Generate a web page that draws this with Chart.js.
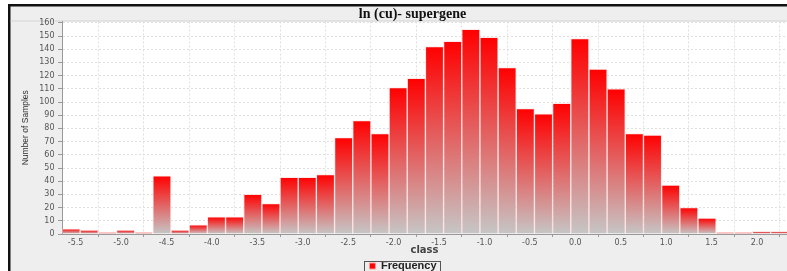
<!DOCTYPE html>
<html>
<head>
<meta charset="utf-8">
<script src="https://cdn.jsdelivr.net/npm/chart.js@4.4.1/dist/chart.umd.min.js"></script>
<style>
  html, body { margin: 0; padding: 0; background: #fff; overflow: hidden; }
  #wrap { position: relative; width: 787px; height: 271px; overflow: hidden; }
  #histChart { display: block; }
</style>
</head>
<body>
<div id="wrap"><canvas id="histChart" width="787" height="285"></canvas></div>
<script>
const chartTitle = 'ln (cu)- supergene';
const seriesName = 'Frequency';
const xTitle = 'class';
const yTitle = 'Number of Samples';

// class bins (centre of each 0.2 wide bin)
const binCenters = [
  -5.55, -5.35, -5.15, -4.95, -4.75, -4.55, -4.35, -4.15, -3.95, -3.75,
  -3.55, -3.35, -3.15, -2.95, -2.75, -2.55, -2.35, -2.15, -1.95, -1.75,
  -1.55, -1.35, -1.15, -0.95, -0.75, -0.55, -0.35, -0.15, 0.05, 0.25,
  0.45, 0.65, 0.85, 1.05, 1.25, 1.45, 1.65, 1.85, 2.05, 2.25
];
const counts = [
  4, 3, 1, 3, 1, 44, 3, 7, 13, 13,
  30, 23, 43, 43, 45, 73, 86, 76, 111, 118,
  142, 146, 155, 149, 126, 95, 91, 99, 148, 125,
  110, 76, 75, 37, 20, 12, 1, 1, 2, 2
];
const xTicks = [-5.5, -5.0, -4.5, -4.0, -3.5, -3.0, -2.5, -2.0, -1.5, -1.0, -0.5, 0.0, 0.5, 1.0, 1.5, 2.0];
const yTicks = [0, 10, 20, 30, 40, 50, 60, 70, 80, 90, 100, 110, 120, 130, 140, 150, 160];

const points = binCenters.map((c, i) => ({ x: c, y: counts[i] }));

// red at the top of each bar fading to grey at its base
function barFill(ctx) {
  if (ctx.type !== 'data') return '#ff0000';
  const chart = ctx.chart;
  const y = chart.scales.y;
  if (!y || !chart.chartArea) return '#ff0000';
  const top = y.getPixelForValue(ctx.parsed.y);
  const base = y.getPixelForValue(0);
  if (!isFinite(top) || base - top < 1) return '#ff0000';
  const g = chart.ctx.createLinearGradient(0, top, 0, base);
  g.addColorStop(0, '#ff0000');
  g.addColorStop(1, '#c6c6c6');
  return g;
}

const panelPlugin = {
  id: 'panel',
  beforeDraw(chart) {
    const c = chart.ctx;
    const a = chart.chartArea;
    c.save();
    c.fillStyle = '#ffffff';
    c.fillRect(0, 0, chart.width, chart.height);
    c.fillStyle = '#eeeeee';
    c.fillRect(10, 6, chart.width - 10, chart.height - 6);
    c.fillStyle = '#111111';
    c.fillRect(8, 4, chart.width - 8, 2.5);
    c.fillRect(8, 4, 2.5, chart.height - 4);
    c.fillStyle = '#ffffff';
    c.fillRect(a.left, a.top, a.right - a.left, a.bottom - a.top);
    c.strokeStyle = '#d4d4d4';
    c.lineWidth = 1;
    c.beginPath();
    c.moveTo(10.5, a.top - 0.5);
    c.lineTo(chart.width, a.top - 0.5);
    c.stroke();
    c.restore();
  },
  afterDraw(chart) {
    const c = chart.ctx;
    c.save();
    c.fillStyle = '#111111';
    c.font = 'bold 14px "Liberation Serif", "Times New Roman", serif';
    c.textAlign = 'center';
    c.textBaseline = 'alphabetic';
    c.fillText(chartTitle, 412.5, 18);
    // legend frame
    const hb = chart.legend && chart.legend.legendHitBoxes && chart.legend.legendHitBoxes[0];
    if (hb) {
      c.strokeStyle = '#555555';
      c.lineWidth = 1;
      c.strokeRect(Math.round(hb.left) - 4.5, Math.round(hb.top) + 0.5, Math.round(hb.width) + 9, 20);
    }
    c.restore();
  }
};

new Chart(document.getElementById('histChart'), {
  type: 'bar',
  data: {
    datasets: [{
      label: seriesName,
      data: points,
      backgroundColor: barFill,
      borderColor: 'rgba(255, 215, 215, 0.6)',
      borderWidth: 1,
      barPercentage: 1,
      categoryPercentage: 1,
      grouped: false
    }]
  },
  options: {
    responsive: false,
    animation: false,
    layout: { padding: { top: 21.5, left: 19, right: 0, bottom: 3.5 } },
    plugins: {
      tooltip: { enabled: false },
      title: { display: false },
      legend: {
        position: 'bottom',
        labels: {
          font: { family: 'Liberation Sans', size: 11, weight: 'bold' },
          color: '#222222',
          boxWidth: 6,
          boxHeight: 6,
          padding: 4,
          generateLabels: (chart) => {
            const items = Chart.defaults.plugins.legend.labels.generateLabels(chart);
            items.forEach(it => { it.fillStyle = '#ff0000'; it.strokeStyle = '#ff9a9a'; it.lineWidth = 1; });
            return items;
          }
        }
      }
    },
    scales: {
      x: {
        type: 'linear',
        min: -5.65,
        max: 2.33,
        offset: false,
        afterBuildTicks: (axis) => { axis.ticks = xTicks.map(v => ({ value: v })); },
        afterFit: (axis) => { axis.height = 22.5; },
        ticks: {
          font: { family: 'DejaVu Sans', size: 8 },
          color: '#555555',
          padding: 1,
          maxRotation: 0,
          autoSkip: false,
          callback: (v) => Number(v).toFixed(1)
        },
        grid: { color: '#e0e0e0', tickColor: '#999999', tickLength: 3 },
        border: { color: '#999999', dash: [2, 2] },
        title: {
          display: true,
          text: xTitle,
          font: { family: 'DejaVu Sans', size: 10, weight: 'bold' },
          color: '#444444',
          padding: 0
        }
      },
      y: {
        min: 0,
        max: 161,
        afterBuildTicks: (axis) => { axis.ticks = yTicks.map(v => ({ value: v })); },
        afterFit: (axis) => { axis.width = 43; },
        ticks: {
          font: { family: 'DejaVu Sans', size: 8 },
          color: '#555555',
          padding: 3.5
        },
        grid: { color: '#e0e0e0', tickColor: '#999999', tickLength: 4 },
        border: { color: '#999999', dash: [2, 2] },
        title: {
          display: true,
          text: yTitle,
          font: { family: 'Liberation Sans', size: 8.5 },
          color: '#333333',
          padding: { top: 1.6, bottom: 0 }
        }
      }
    }
  },
  plugins: [panelPlugin]
});
</script>
</body>
</html>
